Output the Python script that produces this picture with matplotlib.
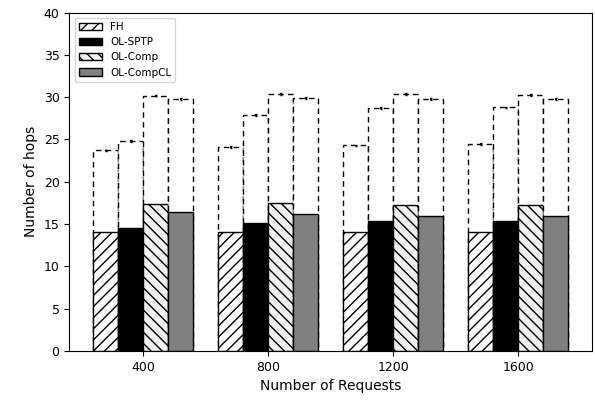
import numpy as np
import matplotlib.pyplot as plt

# --- data ---
requests = ['400', '800', '1200', '1600']
series = ['FH', 'OL-SPTP', 'OL-Comp', 'OL-CompCL']

# lower (solid) bars
fh_avg = [14.1, 14.1, 14.1, 14.1]
sptp_avg = [14.5, 15.1, 15.3, 15.4]
comp_avg = [17.4, 17.5, 17.3, 17.3]
compcl_avg = [16.4, 16.2, 16.0, 15.9]

# upper (dashed) bars
fh_max = [23.7, 24.1, 24.3, 24.5]
sptp_max = [24.8, 27.9, 28.7, 28.8]
comp_max = [30.2, 30.4, 30.4, 30.3]
compcl_max = [29.8, 29.9, 29.8, 29.8]

avgs = [fh_avg, sptp_avg, comp_avg, compcl_avg]
maxs = [fh_max, sptp_max, comp_max, compcl_max]

# --- style per series ---
faces = ['white', 'black', '0.94', '0.5']
hatches = ['///', None, '\\\\\\', None]

# --- plot ---
fig = plt.figure(figsize=(5.95, 4.03), dpi=100)
ax = fig.add_axes([0.1165, 0.1295, 0.8785, 0.839])

x = np.arange(len(requests))
w = 0.2
offsets = [-0.3, -0.1, 0.1, 0.3]

for i in range(len(series)):
    pos = x + offsets[i]
    # dashed outline up to max
    ax.bar(pos, maxs[i], w, facecolor='white', edgecolor='black',
           linestyle=(0, (4, 3)), linewidth=1.0)
    ax.errorbar(pos, maxs[i], yerr=0.1, fmt='none', ecolor='black',
                capsize=1, elinewidth=1.5)
    # solid bar for the average
    ax.bar(pos, avgs[i], w, facecolor=faces[i], edgecolor='black',
           hatch=hatches[i], linewidth=1.0, label=series[i])

ax.set_xticks(x)
ax.set_xticklabels(requests, fontsize=9)
ax.set_ylim(0, 40)
ax.set_yticks(range(0, 41, 5))
ax.tick_params(axis='y', labelsize=9)
ax.set_xlabel('Number of Requests', fontsize=10)
ax.set_ylabel('Number of hops', fontsize=10)

ax.legend(loc='upper left', fontsize=7.5, handlelength=2.2)

fig.savefig('out.png', dpi=100)
